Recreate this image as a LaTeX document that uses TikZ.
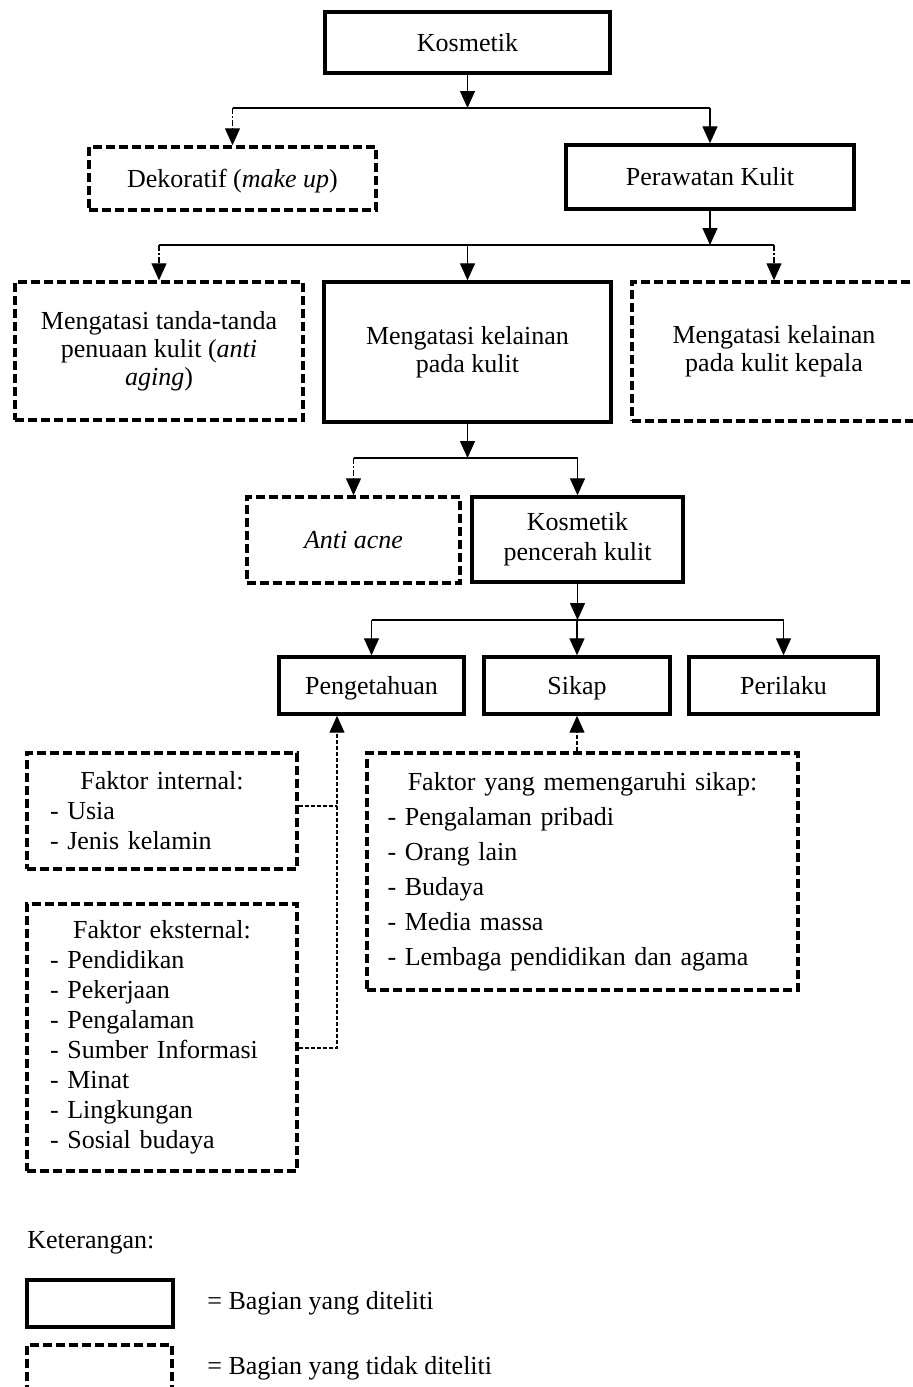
\documentclass[tikz,border=0pt]{standalone}
\usepackage{fontspec}
\setmainfont{Liberation Serif}
\usetikzlibrary{arrows.meta,positioning}

\tikzset{
	kotak/.style={draw, line width=1.7pt, align=center, inner sep=2pt, font=\fontsize{13pt}{15pt}\selectfont},
	kotakputus/.style={kotak, dash pattern=on 4.5pt off 2pt},
	sebaris/.style={text height=11pt, text depth=2.5pt},
	rapat/.style={font=\fontsize{13pt}{14pt}\selectfont},
	conn/.style={line width=0.65pt},
	panah/.style={conn, -{Triangle[length=8.5pt,width=7.5pt]}},
	putus/.style={dash pattern=on 3pt off 1pt on 1pt off 1pt},
	halus/.style={dash pattern=on 2pt off 1pt},
	ket/.style={font=\fontsize{13pt}{15pt}\selectfont, anchor=west, inner sep=0pt}
}

\begin{document}
\begin{tikzpicture}[x=0.5pt, y=-0.5pt]
			\useasboundingbox (0,0) rectangle (913,1387);
			
			\node[kotak, sebaris, minimum width=142.5pt, minimum height=30.5pt] (kos) at (467.5,42.5) {Kosmetik};
			\node[kotakputus, sebaris, minimum width=143.5pt, minimum height=31.5pt] (deko) at (232.5,178.5) {Dekoratif (\textit{make up})};
			\node[kotak, sebaris, minimum width=144pt, minimum height=32pt] (rawat) at (710,177) {Perawatan Kulit};
			
			\node[kotakputus, rapat, minimum width=144pt, minimum height=69pt] (aging) at (159,351) {Mengatasi tanda-tanda\\penuaan kulit (\textit{anti}\\\textit{aging})};
			\node[kotak, rapat, minimum width=143.5pt, minimum height=70pt] (kelainan) at (467.5,352) {Mengatasi kelainan\\pada kulit};
			\node[kotakputus, rapat, minimum width=142pt, minimum height=69.5pt] (kepala) at (774,351.5) {Mengatasi kelainan\\pada kulit kepala};
			
			\node[kotakputus, sebaris, minimum width=106.5pt, minimum height=43pt] (acne) at (353.5,540) {\textit{Anti acne}};
			\node[kotak, minimum width=105.5pt, minimum height=42.5pt] (cerah) at (577.5,539.5) {Kosmetik\\pencerah kulit};
			
			\node[kotak, sebaris, minimum width=92.5pt, minimum height=28.5pt] (tahu) at (371.5,685.5) {Pengetahuan};
			\node[kotak, sebaris, minimum width=93pt, minimum height=28.5pt] (sikap) at (577,685.5) {Sikap};
			\node[kotak, sebaris, minimum width=94.5pt, minimum height=28.5pt] (laku) at (783.5,685.5) {Perilaku};
			
			\node[kotakputus, minimum width=135pt, minimum height=58pt, text width=112pt, align=left] (intern) at (162,811) {\makebox[112pt]{Faktor internal:}\\- Usia\\- Jenis kelamin};
			\node[kotakputus, minimum width=135pt, minimum height=133.5pt, text width=112pt, align=left] (ekstern) at (162,1037.5) {\makebox[112pt]{Faktor eksternal:}\\- Pendidikan\\- Pekerjaan\\- Pengalaman\\- Sumber Informasi\\- Minat\\- Lingkungan\\- Sosial budaya};
			\node[kotakputus, minimum width=215.5pt, minimum height=118.5pt, text width=195pt, align=left, font=\fontsize{13pt}{17.5pt}\selectfont] (fsikap) at (582.5,871.5) {\makebox[195pt]{Faktor yang memengaruhi sikap:}\\- Pengalaman pribadi\\- Orang lain\\- Budaya\\- Media massa\\- Lembaga pendidikan dan agama};
			
			\coordinate (j1) at (467.5,108);
			\draw[panah] (kos) -- (j1);
			\draw[conn] (j1 -| deko) -- (j1 -| rawat);
			\draw[panah, putus] (j1 -| deko) -- (deko);
			\draw[panah] (j1 -| rawat) -- (rawat);
			
			\coordinate (j2) at (710,245);
			\draw[panah] (rawat) -- (j2);
			\draw[conn] (j2 -| aging) -- (j2 -| kepala);
			\draw[panah, putus] (j2 -| aging) -- (aging);
			\draw[panah] (j2 -| kelainan) -- (kelainan);
			\draw[panah, putus] (j2 -| kepala) -- (kepala);
			
			\coordinate (j3) at (467.5,458);
			\draw[panah] (kelainan) -- (j3);
			\draw[conn] (j3 -| acne) -- (j3 -| cerah);
			\draw[panah, putus] (j3 -| acne) -- (acne);
			\draw[panah] (j3 -| cerah) -- (cerah);
			
			\coordinate (j4) at (577.5,620);
			\draw[panah] (cerah) -- (j4);
			\draw[conn] (j4 -| tahu) -- (j4 -| laku);
			\foreach \n in {tahu,sikap,laku}
				\draw[panah] (j4 -| \n) -- (\n);
			
			\coordinate (k1) at (337,806);
			\coordinate (k2) at (337,1048);
			\draw[conn, halus] (intern.east |- k1) -- (k1);
			\draw[panah, halus] (ekstern.east |- k2) -- (k2) -- (k2 |- tahu.south);
			\draw[panah, halus] (sikap.south |- fsikap.north) -- (sikap.south);
			
			\node[ket] (keterangan) at (27,1243) {Keterangan:};
			\node[kotak, minimum width=73pt, minimum height=23.5pt] (lteliti) at (100,1303.5) {};
			\node[ket] (tteliti) at (207,1303) {= Bagian yang diteliti};
			\node[kotakputus, minimum width=72.5pt, minimum height=23.5pt] (ltidak) at (99.5,1368.5) {};
			\node[ket] (ttidak) at (207,1368) {= Bagian yang tidak diteliti};
\end{tikzpicture}
\end{document}
